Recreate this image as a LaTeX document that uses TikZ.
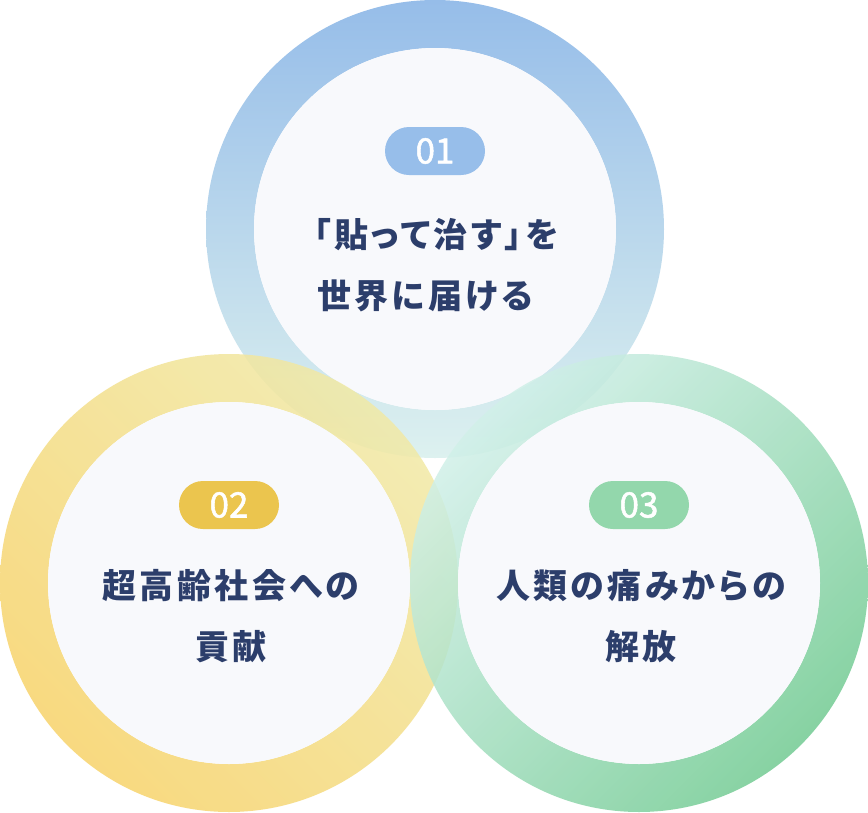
\documentclass[tikz,border=0pt]{standalone}
\usepackage{fontspec}
\newfontfamily\jp{Noto Sans CJK JP}[LetterSpace=10, RawFeature=+palt]
\newfontfamily\badgefont{Noto Sans CJK JP}[FakeBold=1.5]
\definecolor{topA}{HTML}{96BDE9}
\definecolor{topM}{HTML}{B6D6EC}
\definecolor{topB}{HTML}{DDF1EF}
\definecolor{yelD}{HTML}{F7D36A}
\definecolor{yelL}{HTML}{F1E9A6}
\definecolor{grnD}{HTML}{73CB93}
\definecolor{grnL}{HTML}{D1F0E9}
\definecolor{disk}{HTML}{F8F9FC}
\definecolor{txt}{HTML}{2C3E6B}
\definecolor{bA}{HTML}{97BEEA}
\definecolor{bB}{HTML}{EBC54E}
\definecolor{bC}{HTML}{93D7AC}
\tikzset{
  badge/.style={rounded corners=24pt, minimum width=100pt, minimum height=48pt, inner sep=0pt, text=white, font=\badgefont\fontsize{35}{35}\selectfont},
  label/.style={text=txt, align=center, font=\jp\bfseries\fontsize{34}{61}\selectfont, inner sep=0pt},
  inner/.style={fill=disk}
}
\begin{document}
\begin{tikzpicture}[x=1pt,y=-1pt]
\useasboundingbox (0,0) rectangle (868,812);
\fill[white] (0,0) rectangle (868,812);
\coordinate (c1) at (435,229);
\coordinate (c2) at (229,583);
\coordinate (c3) at (639,583);
% top circle
\shade[even odd rule, top color=topA, middle color=topM, bottom color=topB] (c1) circle[radius=229] (c1) circle[radius=181];
\fill[inner] (c1) circle[radius=181];
% bottom left
\shade[even odd rule, top color=yelL, bottom color=yelD, shading angle=-45, opacity=0.85] (c2) circle[radius=229] (c2) circle[radius=181];
\fill[inner] (c2) circle[radius=181];
% bottom right
\shade[even odd rule, top color=grnL, bottom color=grnD, shading angle=45, opacity=0.85] (c3) circle[radius=229] (c3) circle[radius=181];
\fill[inner] (c3) circle[radius=181];
% badges
\node[badge, fill=bA] (p1) at (435,151) {01};
\node[badge, fill=bB] (p2) at (229,505) {02};
\node[badge, fill=bC] (p3) at (639,505) {03};
% texts
\node[label] (t1) at (436,265) {「貼って治す」を\\世界に届ける\hspace*{22pt}};
\node[label] (t2) at (231,616) {超高齢社会への\\貢献};
\node[label] (t3) at (641,616) {人類の痛みからの\\解放};
\end{tikzpicture}
\end{document}
